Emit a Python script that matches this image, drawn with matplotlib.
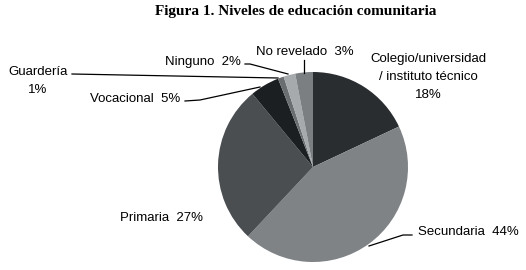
import matplotlib.pyplot as plt

# Data
labels = ['Colegio/universidad\n/ instituto técnico\n18%', 'Secundaria  44%', 'Primaria  27%',
          'Vocacional  5%', 'Guardería\n1%', 'Ninguno  2%', 'No revelado  3%']
values = [18, 44, 27, 5, 1, 2, 3]
colors = ['#2a2d30', '#7f8386', '#4a4e51', '#1c1f22', '#6b6e70', '#a6aaac', '#7b7f81']

W, H = 526, 270
fig = plt.figure(figsize=(W / 100, H / 100), dpi=100)
ax = fig.add_axes([0, 0, 1, 1])

# y axis inverted, so counterclock=True draws clockwise on screen
ax.pie(values, colors=colors, startangle=-90, counterclock=True,
       center=(313, 167), radius=95, frame=True,
       wedgeprops=dict(linewidth=0))
ax.set_xlim(0, W)
ax.set_ylim(H, 0)  # pixel coords, y down
ax.set_aspect('equal')
ax.axis('off')

font = dict(family='Liberation Sans', fontsize=9.5, color='black')

# text positions (pixel) and leader lines
ax.text(428, 77, labels[0], ha='center', va='center', linespacing=1.7, **font)
ax.text(418, 232, labels[1], ha='left', va='center', **font)
ax.text(120, 218, labels[2], ha='left', va='center', **font)
ax.text(180, 99, labels[3], ha='right', va='center', **font)
ax.text(38, 81, labels[4], ha='center', va='center', linespacing=1.6, **font)
ax.text(241, 62, labels[5], ha='right', va='center', **font)
ax.text(305, 52, labels[6], ha='center', va='center', **font)

lines = [
    ([369, 403, 412], [246, 235, 235]),
    ([185, 200, 260], [101, 100, 87]),
    ([72, 278], [74, 78]),
    ([245, 250, 288], [64, 64, 74]),
    ([304, 304], [60, 73]),
]
for xs, ys in lines:
    ax.plot(xs, ys, color='black', lw=0.9)

fig.text(296 / W, 1 - 12 / H, 'Figura 1. Niveles de educación comunitaria',
         ha='center', va='center', family='Liberation Serif', fontweight='bold',
         fontsize=11)

fig.savefig('out.png', dpi=100)
